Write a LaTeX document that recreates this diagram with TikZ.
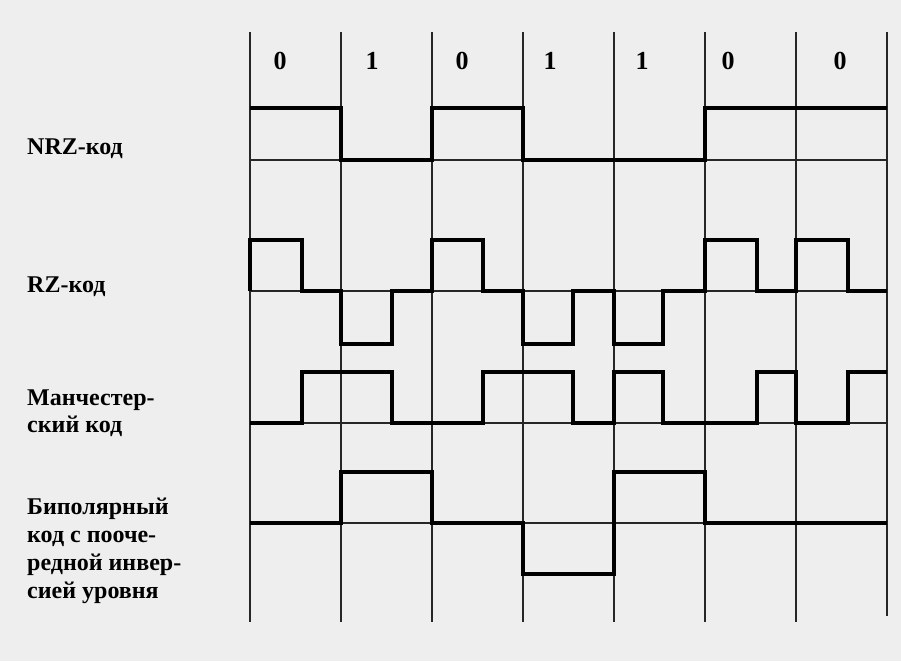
\documentclass[tikz,border=0pt]{standalone}
\usepackage{fontspec}
\setmainfont{Liberation Serif}
\definecolor{paper}{RGB}{238,238,238}
\begin{document}
\begin{tikzpicture}[x=1pt,y=-1pt,
  thinline/.style={line width=1.2pt,black!85},
  sig/.style={line width=3.4pt,black,line join=miter},
  lbl/.style={anchor=base west,inner sep=0pt,font=\bfseries\fontsize{24}{28}\selectfont},
  bit/.style={anchor=base,inner sep=0pt,font=\bfseries\fontsize{26}{28}\selectfont}]
\fill[paper] (0,0) rectangle (901,661);
\useasboundingbox (0,0) rectangle (901,661);
% grid verticals
\foreach \i/\x in {0/250,1/341,2/432,3/523,4/614,5/705,6/796}
  \draw[thinline] (\x,32) -- (\x,622);
\draw[thinline] (887,32) -- (887,616);
% baselines
\draw[thinline] (250,160) -- (887,160);
\draw[thinline] (250,291) -- (887,291);
\draw[thinline] (250,423) -- (887,423);
\draw[thinline] (250,523) -- (887,523);
% bits
\node[bit] (b0) at (280,69) {0};
\node[bit] (b1) at (372,69) {1};
\node[bit] (b2) at (462,69) {0};
\node[bit] (b3) at (550,69) {1};
\node[bit] (b4) at (642,69) {1};
\node[bit] (b5) at (728,69) {0};
\node[bit] (b6) at (840,69) {0};
% labels
\node[lbl] (lnrz) at (27,154) {NRZ-код};
\node[lbl] (lrz) at (27,292) {RZ-код};
\node[lbl] (lman1) at (27,405) {Манчестер-};
\node[lbl] (lman2) at (27,432) {ский код};
\node[lbl] (lami1) at (27,514) {Биполярный};
\node[lbl] (lami2) at (27,542) {код с пооче-};
\node[lbl] (lami3) at (27,570) {редной инвер-};
\node[lbl] (lami4) at (27,598) {сией уровня};
% NRZ
\draw[sig] (250,108) -- (341,108) -- (341,160) -- (432,160) -- (432,108) -- (523,108)
  -- (523,160) -- (705,160) -- (705,108) -- (887,108);
% RZ
\draw[sig] (250,291) -- (250,240) -- (302,240) -- (302,291) -- (341,291) -- (341,344)
  -- (392,344) -- (392,291) -- (432,291) -- (432,240) -- (483,240) -- (483,291)
  -- (523,291) -- (523,344) -- (573,344) -- (573,291) -- (614,291) -- (614,344)
  -- (663,344) -- (663,291) -- (705,291) -- (705,240) -- (757,240) -- (757,291)
  -- (796,291) -- (796,240) -- (848,240) -- (848,291) -- (887,291);
% Manchester
\draw[sig] (250,423) -- (302,423) -- (302,372) -- (392,372) -- (392,423) -- (483,423)
  -- (483,372) -- (573,372) -- (573,423) -- (614,423) -- (614,372) -- (663,372)
  -- (663,423) -- (757,423) -- (757,372) -- (796,372) -- (796,423) -- (848,423)
  -- (848,372) -- (887,372);
% Bipolar AMI
\draw[sig] (250,523) -- (341,523) -- (341,472) -- (432,472) -- (432,523) -- (523,523)
  -- (523,574) -- (614,574) -- (614,472) -- (705,472) -- (705,523) -- (887,523);
\end{tikzpicture}
\end{document}
